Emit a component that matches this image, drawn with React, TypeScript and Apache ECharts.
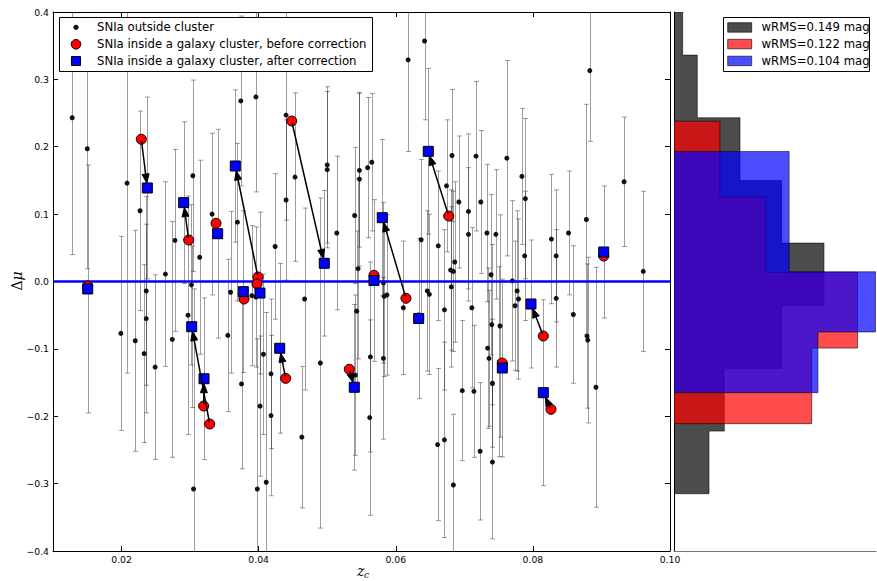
import React, { useEffect, useRef } from 'react';
import * as echarts from 'echarts';

// ---------- Data ----------
const outZ = [0.0128,0.0150,0.0208,0.0227,0.0278,0.0304,0.0314,0.0332,0.0369,0.0374,0.0396,0.0264,0.0440,0.0440,0.0453,0.0424,0.0500,0.0500,0.0514,0.0540,0.0545,0.0547,0.0547,0.0559,0.0565,0.0618,0.0642,0.0637,0.0662,0.0674,0.0682,0.0692,0.0686,0.0680,0.0684,0.0883,0.0717,0.0762,0.0706,0.0706,0.0724,0.0733,0.0746,0.0784,0.0789,0.0788,0.0739,0.0770,0.0827,0.0834,0.0852,0.0878,0.0933,0.0961,
  0.0199,0.0220,0.0233,0.0236,0.0236,0.0249,0.0274,0.0297,0.0302,0.0305,0.0355,0.0359,0.0375,0.0390,0.0396,0.0402,0.0398,0.0411,0.0418,0.0467,0.0407,0.0418,0.0490,0.0463,0.0543,0.0541,0.0563,0.0562,0.0582,0.0583,0.0587,0.0582,0.0611,0.0646,0.0649,0.0671,0.0681,0.0661,0.0671,0.0684,0.0697,0.0711,0.0714,0.0723,0.0734,0.0736,0.0740,0.0741,0.0741,0.0752,0.0751,0.0774,0.0777,0.0779,0.0834,0.0859,0.0879,0.0880,0.0892];
const outDmu = [0.243,0.197,0.146,0.105,0.061,0.157,0.036,0.100,0.088,0.268,0.274,0.011,0.247,0.121,0.155,0.052,0.173,0.166,0.072,0.098,0.019,0.165,0.152,0.169,0.177,0.329,0.357,0.062,0.053,0.142,0.187,0.118,0.029,0.017,0.015,0.313,0.186,0.183,0.104,0.070,0.118,0.072,0.070,0.156,0.123,0.038,0.010,0.001,0.063,0.038,0.072,0.092,0.148,0.015,
  -0.077,-0.088,-0.107,-0.055,-0.014,-0.127,-0.086,-0.050,-0.005,-0.308,-0.080,-0.016,-0.152,-0.021,-0.023,-0.185,-0.308,-0.298,-0.199,-0.026,-0.108,-0.137,-0.121,-0.231,-0.044,-0.139,-0.112,-0.202,-0.002,-0.022,-0.020,-0.114,-0.039,-0.014,-0.019,-0.042,-0.008,-0.242,-0.235,-0.302,-0.162,-0.039,-0.163,-0.252,-0.099,-0.114,-0.064,-0.151,-0.268,-0.066,-0.119,-0.036,-0.014,-0.026,-0.025,-0.049,-0.081,-0.087,-0.157];
const outErr = [0.203,0.178,0.282,0.148,0.135,0.142,0.144,0.120,0.117,0.126,0.141,0.137,0.156,0.119,0.125,0.108,0.116,0.116,0.114,0.101,0.134,0.114,0.129,0.104,0.102,0.136,0.117,0.119,0.111,0.098,0.098,0.098,0.119,0.119,0.119,0.105,0.111,0.145,0.115,0.099,0.106,0.102,0.096,0.101,0.119,0.096,0.119,0.119,0.096,0.098,0.092,0.171,0.096,0.119,
  0.144,0.164,0.132,0.140,0.140,0.137,0.175,0.177,0.119,0.297,0.113,0.120,0.126,0.104,0.104,0.104,0.223,0.252,0.119,0.135,0.119,0.111,0.245,0.105,0.119,0.119,0.141,0.145,0.119,0.119,0.119,0.120,0.099,0.119,0.119,0.119,0.119,0.113,0.145,0.105,0.104,0.119,0.098,0.102,0.119,0.101,0.119,0.095,0.114,0.165,0.141,0.096,0.119,0.119,0.102,0.102,0.107,0.123,0.178];

const beforeZ = [0.01506,0.02288,0.02979,0.03378,0.03990,0.03976,0.03786,0.03198,0.03286,0.04482,0.05682,0.06149,0.06772,0.05322,0.04394,0.06334,0.08152,0.08264,0.07554,0.09033];
const beforeDmu = [-0.0067,0.2111,0.0616,0.0864,0.0067,-0.0037,-0.0260,-0.1848,-0.2115,0.2382,0.0092,-0.0249,0.0972,-0.1303,-0.1437,-0.0542,-0.0809,-0.1897,-0.1210,0.0378];
const afterZ = [0.01506,0.02376,0.02906,0.03402,0.03659,0.04019,0.03776,0.03203,0.03023,0.04957,0.05682,0.05803,0.06474,0.05395,0.04307,0.06334,0.07972,0.08152,0.07554,0.09033];
const afterDmu = [-0.0111,0.1388,0.1170,0.0709,0.1714,-0.0171,-0.0151,-0.1443,-0.0671,0.0270,0.0015,0.0947,0.1932,-0.1570,-0.0991,-0.0549,-0.0334,-0.1650,-0.1284,0.0438];
const afterErr = [0.184,0.135,0.12,0.155,0.113,0.12,0.12,0.12,0.12,0.108,0.12,0.116,0.123,0.123,0.126,0.119,0.095,0.138,0.132,0.098];

const xTicks = [0.02, 0.04, 0.06, 0.08, 0.10];

const grayEdges = [0.429, 0.336, 0.243, 0.150, 0.057, -0.036, -0.129, -0.222, -0.315];
const grayDensity = [0.169, 0.453, 1.284, 2.095, 2.918, 2.095, 0.979, 0.681];
const redEdges = [0.238, 0.1257, 0.0135, -0.0988, -0.211];
const redDensity = [0.893, 1.786, 3.571, 2.679];
const blueEdges = [0.193, 0.1037, 0.0144, -0.0749, -0.165];
const blueDensity = [2.24, 2.24, 3.92, 2.80];

const legendLabels = ['SNIa outside cluster', 'SNIa inside a galaxy cluster, before correction', 'SNIa inside a galaxy cluster, after correction'];
const histLabels = ['wRMS=0.149 mag', 'wRMS=0.122 mag', 'wRMS=0.104 mag'];

const FONT = 'DejaVu Sans';
const ERR_COLOR = 'rgba(0,0,0,0.38)';

function errRender(params: any, api: any) {
  const x = api.value(0), y = api.value(1), e = api.value(2);
  const t = api.coord([x, y + e]);
  const b = api.coord([x, y - e]);
  const cx = Math.round(t[0]) + 0.5;
  const cw = 2.5;
  const st = { stroke: ERR_COLOR, lineWidth: 1 };
  return {
    type: 'group',
    children: [
      { type: 'line', shape: { x1: cx, y1: t[1], x2: cx, y2: b[1] }, style: st },
      { type: 'line', shape: { x1: cx - cw, y1: t[1], x2: cx + cw, y2: t[1] }, style: st },
      { type: 'line', shape: { x1: cx - cw, y1: b[1], x2: cx + cw, y2: b[1] }, style: st },
    ],
  };
}

function histRender(edges: number[], dens: number[], fill: string) {
  return (params: any, api: any) => {
    const cl = (v: number) => Math.max(-0.4, Math.min(0.4, v));
    const pts: number[][] = [];
    pts.push(api.coord([0, cl(edges[0])]));
    for (let i = 0; i < dens.length; i++) {
      pts.push(api.coord([dens[i], cl(edges[i])]));
      pts.push(api.coord([dens[i], cl(edges[i + 1])]));
    }
    pts.push(api.coord([0, cl(edges[edges.length - 1])]));
    return {
      type: 'polygon',
      shape: { points: pts },
      style: { fill, stroke: 'rgba(0,0,0,0.55)', lineWidth: 1 },
    };
  };
}

function arrowRender(params: any, api: any) {
  const p1 = api.coord([api.value(0), api.value(1)]);
  const p2 = api.coord([api.value(2), api.value(3)]);
  const dx = p2[0] - p1[0], dy = p2[1] - p1[1];
  const L = Math.sqrt(dx * dx + dy * dy);
  if (L < 14) return { type: 'group', children: [] };
  const ux = dx / L, uy = dy / L;
  const s = [p1[0] + ux * 2, p1[1] + uy * 2];
  const tip = [p2[0] - ux * 5, p2[1] - uy * 5];
  const hl = 9, hw = 3.5;
  const base = [tip[0] - ux * hl, tip[1] - uy * hl];
  return {
    type: 'group',
    children: [
      { type: 'line', shape: { x1: s[0], y1: s[1], x2: base[0], y2: base[1] }, style: { stroke: '#000', lineWidth: 1.5 } },
      {
        type: 'polygon',
        shape: { points: [tip, [base[0] - uy * hw, base[1] + ux * hw], [base[0] + uy * hw, base[1] - ux * hw]] },
        style: { fill: '#000', stroke: '#000', lineWidth: 1 },
      },
    ],
  };
}

export default function App() {
  const ref = useRef<HTMLDivElement>(null);
  useEffect(() => {
    if (!ref.current) return;
    const chart = echarts.init(ref.current, null, { renderer: 'svg' });
    const yFmt = (v: number) => (Math.abs(v) < 1e-9 ? '0.0' : v.toFixed(1)).replace('-', '\u2212');
    const tickStyle = { inside: true, length: 5, lineStyle: { color: '#000', width: 1 } };
    const axLine = { show: true, onZero: false, lineStyle: { color: '#000', width: 1 } };

    const outData = outZ.map((z, i) => [z, outDmu[i], outErr[i]]);
    const afterErrData = afterZ.map((z, i) => [z, afterDmu[i], afterErr[i]]);
    const arrowData = beforeZ.map((z, i) => [z, beforeDmu[i], afterZ[i], afterDmu[i]]);

    const legendG: any[] = [
      { type: 'rect', shape: { x: 59.5, y: 17.5, width: 313, height: 54 }, style: { fill: '#fff', stroke: '#000', lineWidth: 1 }, z: 100 },
      { type: 'circle', shape: { cx: 76, cy: 27.3, r: 2.6 }, style: { fill: '#111' }, z: 101 },
      { type: 'circle', shape: { cx: 76, cy: 44.3, r: 4.8 }, style: { fill: '#ff0000', stroke: '#000', lineWidth: 1 }, z: 101 },
      { type: 'rect', shape: { x: 71.5, y: 56.5, width: 9, height: 9 }, style: { fill: '#0000ff', stroke: '#000', lineWidth: 1 }, z: 101 },
      { type: 'rect', shape: { x: 723.5, y: 17.5, width: 146, height: 54 }, style: { fill: '#fff', stroke: '#000', lineWidth: 1 }, z: 100 },
      { type: 'rect', shape: { x: 727.7, y: 22.7, width: 24, height: 9.5 }, style: { fill: 'rgba(0,0,0,0.7)', stroke: 'rgba(0,0,0,0.6)', lineWidth: 1 }, z: 101 },
      { type: 'rect', shape: { x: 727.7, y: 39.3, width: 24, height: 9.5 }, style: { fill: 'rgba(255,0,0,0.7)', stroke: 'rgba(0,0,0,0.6)', lineWidth: 1 }, z: 101 },
      { type: 'rect', shape: { x: 727.7, y: 56.2, width: 24, height: 9.5 }, style: { fill: 'rgba(0,0,255,0.7)', stroke: 'rgba(0,0,0,0.6)', lineWidth: 1 }, z: 101 },
    ];
    const ly = [27.3, 44.3, 61];
    legendLabels.forEach((t, i) => legendG.push({ type: 'text', x: 97, y: ly[i], style: { text: t, font: `11.7px "${FONT}"`, fill: '#000', textVerticalAlign: 'middle' }, z: 101 }));
    histLabels.forEach((t, i) => legendG.push({ type: 'text', x: 761.5, y: ly[i], style: { text: t, font: `11.7px "${FONT}"`, fill: '#000', textVerticalAlign: 'middle' }, z: 101 }));
    legendG.push({ type: 'text', x: 357, y: 564, style: { text: 'z', font: 'italic 14px "DejaVu Serif"', fill: '#000', textVerticalAlign: 'top' }, z: 101 });
    legendG.push({ type: 'text', x: 364, y: 570, style: { text: 'c', font: 'italic 9px "DejaVu Serif"', fill: '#000', textVerticalAlign: 'top' }, z: 101 });
    legendG.push({
      type: 'text', x: 17, y: 281, rotation: Math.PI / 2,
      style: { text: '{a|Δ}{b|μ}', rich: { a: { font: '14px "DejaVu Serif"', fill: '#000' }, b: { font: 'italic 14px "DejaVu Serif"', fill: '#000' } }, textAlign: 'center', textVerticalAlign: 'middle' },
      z: 101,
    });

    chart.setOption({
      animation: false,
      backgroundColor: '#fff',
      textStyle: { fontFamily: FONT },
      grid: [
        { left: 53, top: 12, width: 617, height: 539 },
        { left: 674, top: 12, width: 202, height: 539 },
      ],
      xAxis: [
        {
          type: 'value', gridIndex: 0, min: 0.01, max: 0.1, position: 'bottom',
          axisLine: axLine, splitLine: { show: false },
          axisTick: { ...tickStyle, customValues: xTicks },
          axisLabel: { customValues: xTicks, formatter: (v: number) => v.toFixed(2), fontSize: 9.3, color: '#000', margin: 4, fontFamily: FONT },
        },
        {
          type: 'value', gridIndex: 0, min: 0.01, max: 0.1, position: 'top',
          axisLine: axLine, splitLine: { show: false },
          axisTick: { ...tickStyle, customValues: xTicks },
          axisLabel: { show: false },
        },
        {
          type: 'value', gridIndex: 1, min: 0, max: 3.93, position: 'bottom',
          axisLine: { show: true, onZero: false, lineStyle: { color: '#777', width: 1 } }, splitLine: { show: false },
          axisTick: { show: false }, axisLabel: { show: false },
        },
      ],
      yAxis: [
        {
          type: 'value', gridIndex: 0, min: -0.4, max: 0.4, interval: 0.1, position: 'left',
          axisLine: axLine, splitLine: { show: false }, axisTick: tickStyle,
          axisLabel: { formatter: yFmt, fontSize: 9.3, color: '#000', margin: 4, fontFamily: FONT },
        },
        {
          type: 'value', gridIndex: 0, min: -0.4, max: 0.4, interval: 0.1, position: 'right',
          axisLine: axLine, splitLine: { show: false }, axisTick: tickStyle, axisLabel: { show: false },
        },
        {
          type: 'value', gridIndex: 1, min: -0.4, max: 0.4, interval: 0.1, position: 'left',
          axisLine: axLine, splitLine: { show: false }, axisTick: { show: false }, axisLabel: { show: false },
        },
      ],
      series: [
        { type: 'custom', xAxisIndex: 0, yAxisIndex: 0, renderItem: errRender, data: outData, encode: { x: 0, y: 1 }, clip: true, z: 1 },
        { type: 'custom', xAxisIndex: 0, yAxisIndex: 0, renderItem: errRender, data: afterErrData, encode: { x: 0, y: 1 }, clip: true, z: 1 },
        { type: 'scatter', xAxisIndex: 0, yAxisIndex: 0, data: outData.map((d) => [d[0], d[1]]), symbol: 'circle', symbolSize: 5, itemStyle: { color: '#111', opacity: 1 }, z: 2 },
        { type: 'line', xAxisIndex: 0, yAxisIndex: 0, data: [[0.01, 0], [0.1, 0]], showSymbol: false, symbol: 'none', lineStyle: { color: '#0000ff', width: 2.5 }, z: 3 },
        { type: 'scatter', xAxisIndex: 0, yAxisIndex: 0, data: beforeZ.map((z, i) => [z, beforeDmu[i]]), symbol: 'circle', symbolSize: 10, itemStyle: { color: '#ff0000', borderColor: '#000', borderWidth: 1, opacity: 1 }, z: 4 },
        { type: 'scatter', xAxisIndex: 0, yAxisIndex: 0, data: afterZ.map((z, i) => [z, afterDmu[i]]), symbol: 'rect', symbolSize: 10, itemStyle: { color: '#0000ff', borderColor: '#000', borderWidth: 1, opacity: 1 }, z: 5 },
        { type: 'custom', xAxisIndex: 0, yAxisIndex: 0, renderItem: arrowRender, data: arrowData, encode: { x: [0, 2], y: [1, 3] }, clip: true, z: 6 },
        { type: 'custom', xAxisIndex: 2, yAxisIndex: 2, renderItem: histRender(grayEdges, grayDensity, 'rgba(0,0,0,0.7)'), data: [[0, 0]], clip: true, z: 1 },
        { type: 'custom', xAxisIndex: 2, yAxisIndex: 2, renderItem: histRender(redEdges, redDensity, 'rgba(255,0,0,0.7)'), data: [[0, 0]], clip: true, z: 2 },
        { type: 'custom', xAxisIndex: 2, yAxisIndex: 2, renderItem: histRender(blueEdges, blueDensity, 'rgba(0,0,255,0.7)'), data: [[0, 0]], clip: true, z: 3 },
      ],
      graphic: legendG,
    });
    return () => chart.dispose();
  }, []);
  return <div ref={ref} style={{ position: 'fixed', left: 0, top: 0, width: 877, height: 581, background: '#fff' }} />;
}
